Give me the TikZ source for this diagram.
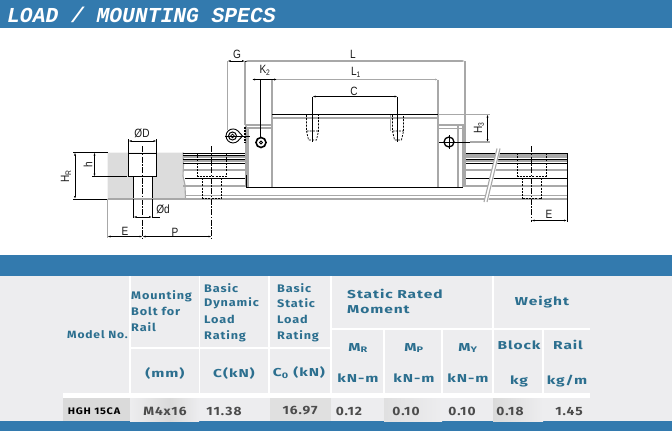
\documentclass[tikz,border=0pt]{standalone}
\usepackage{fontspec}
\setmainfont{Liberation Sans}
\newfontfamily\titlefont{Liberation Mono}
\newfontfamily\dimfont[FakeStretch=0.84]{Liberation Sans}
\newfontfamily\tablefont[LetterSpace=8,FakeStretch=1.15]{Fira Sans}
\newfontfamily\widefont[LetterSpace=8,FakeStretch=1.35]{Fira Sans}
\definecolor{bannerblue}{HTML}{337AAE}
\definecolor{tablegray}{HTML}{EDEDEF}
\definecolor{cellgray}{HTML}{DADADA}
\definecolor{headblue}{HTML}{2C6F8F}
\definecolor{railgray}{HTML}{DCDCDC}
\definecolor{linegray}{HTML}{A8A8A8}
\usetikzlibrary{arrows.meta}
\tikzset{
  thin line/.style = {line width=0.7pt, black},
  gray line/.style = {line width=1.1pt, linegray},
  heavy line/.style = {line width=1pt, black},
  hidden line/.style = {line width=0.7pt, black, dash pattern=on 2pt off 1.2pt},
  center line/.style = {line width=0.7pt, black, dash pattern=on 6pt off 1.5pt on 1.5pt off 1.5pt},
  dim line/.style = {line width=0.7pt, black, <->, >={Latex[length=3pt,width=2pt]}},
  dim label/.style = {font=\dimfont\fontsize{12}{12}\selectfont, inner sep=0pt, text=black!90},
  table head/.style = {font=\tablefont\bfseries\fontsize{11}{11}\selectfont, text=headblue, inner sep=0pt},
  table left/.style = {table head, anchor=west},
  table wide/.style = {font=\widefont\bfseries\fontsize{11.5}{11}\selectfont, text=headblue, inner sep=0pt},
  table cell/.style = {font=\tablefont\fontsize{12}{11}\selectfont\bfseries, text=black!70, inner sep=0pt},
  cell shade/.style = {left color=cellgray, right color=tablegray, draw=none},
  white rule/.style = {line width=1.3pt, white},
}
\begin{document}
\begin{tikzpicture}[x=1pt, y=-1pt]
\useasboundingbox (0,0) rectangle (672,431);
% banners
\fill[bannerblue] (0,0) rectangle (672,28);
\fill[tablegray] (0,276) rectangle (672,421);
\fill[bannerblue] (0,255) rectangle (672,276);
\fill[bannerblue] (0,421) rectangle (672,431);
\node[anchor=west, text=white, inner sep=0pt, font=\titlefont\bfseries\itshape\fontsize{21.3}{21}\selectfont] (title) at (7,15) {LOAD / MOUNTING SPECS};
% rail section
\fill[railgray] (107.5,152.5) -- (183,152.5) -- (183.5,165) -- (183,176) -- (185,185) -- (185.5,199) -- (107.5,199) -- cycle;
\fill[white] (128.5,153) rectangle (156.5,176.5);
\fill[white] (133.5,176.5) rectangle (152,199);
\draw[heavy line] (128.5,153) rectangle (156.5,176.5);
\draw[thin line] (133.5,176.5) -- (133.5,199) (152,176.5) -- (152,199);
\draw[center line] (142.5,146) -- (142.5,238);
\draw[gray line] (183,152.5) -- (183.5,165) -- (183,176) -- (185,185) -- (185.5,199);
% rail lines, left of the block
\foreach \y in {153,155,159,163} \draw[thin line] (183,\y) -- (246,\y);
\foreach \y in {157,161,170,186} \draw[gray line] (183,\y) -- (246,\y);
\draw[thin line] (185,178) -- (246,178);
% rail lines, under the block
\draw[gray line] (107.5,199) -- (567,199);
\draw[gray line] (185,195.5) -- (567,195.5);
\draw[heavy line] (73,199) -- (107.5,199);
% rail lines, right of the block
\foreach \y in {153,159,163} \draw[heavy line] (463,\y) -- (567,\y);
\foreach \y in {155,157,161,170,186} \draw[gray line] (463,\y) -- (567,\y);
\draw[thin line] (463,178) -- (567,178);
% break
\fill[white] (497,148) -- (501,148) -- (488,202) -- (484,202) -- cycle;
\draw[gray line] (497,148.5) -- (484,202);
\draw[gray line] (500,148.5) -- (487,202);
% bolt holes in the rail
\draw[hidden line] (197.5,153) rectangle (226.5,176.5);
\draw[hidden line] (202,178) -- (202,199) (221,178) -- (221,199) (202,198) -- (221,198);
\draw[center line] (211.5,146) -- (211.5,238);
\draw[hidden line] (517.5,153) rectangle (546,176.5);
\draw[hidden line] (522.5,178) -- (522.5,199) (541,178) -- (541,199) (522.5,198) -- (541,198);
\draw[center line] (531.5,146) -- (531.5,222);
\draw[thin line] (567,153) -- (567,222);
% block
\draw[gray line] (245,61) -- (245,125);
\draw[gray line] (246,125) -- (246,187);
\draw[gray line] (248,128) -- (248,187);
\draw[gray line] (246,125) -- (272,125);
\draw[gray line] (246,128) -- (272,128);
\draw[gray line] (272,79.5) -- (272,187);
\draw[gray line] (438,79.5) -- (438,187);
\draw[gray line] (465,61) -- (465,187);
\draw[gray line] (463,125) -- (463,187);
\draw[gray line] (458,125) -- (458,187);
\draw[gray line] (438,125) -- (465,125);
\draw[gray line] (438,128.5) -- (463,128.5);
\draw[heavy line] (246,187) -- (463,187);
\draw[heavy line] (246,175) -- (246,187);
\draw[heavy line] (272,114.5) -- (438,114.5);
\draw[gray line] (272,118) -- (438,118);
\draw[gray line] (438,114.5) -- (490,114.5);
\draw[gray line] (227.5,61) -- (227.5,130);
% threaded holes
\draw[hidden line] (306.5,115) -- (306.5,131) -- (308.5,140) -- (316.5,140) -- (318.5,131) -- (318.5,115) (306.5,131) -- (318.5,131);
\draw[hidden line] (392.5,115) -- (392.5,131) -- (394.5,140) -- (401.5,140) -- (403.5,131) -- (403.5,115) (392.5,131) -- (403.5,131);
\draw[gray line] (390.5,115) -- (390.5,131);
\draw[thin line] (312.5,96.5) -- (312.5,142);
\draw[thin line] (397.5,96.5) -- (397.5,142);
% side screws
\draw[line width=1.6pt] (261,142.5) circle (5);
\draw[line width=0.8pt] (261,142.5) circle (1.5);
\draw[thin line] (260.5,79.5) -- (260.5,137);
\draw[line width=1.3pt] (449,142) circle (5);
\draw[thin line] (439,142) -- (470,142) (449,135) -- (449,149);
\draw[gray line] (470,142) -- (490,142);
% grease nipple
\draw[line width=0.9pt] (238,131) arc[start angle=-45, end angle=-315, radius=7] -- (242.5,136) -- cycle;
\draw[line width=1pt] (232.5,136) circle (4);
\draw[thin line] (232.5,136) circle (1.8);
\draw[thin line] (225,136) -- (250,136);
\draw[line width=1.1pt, dash pattern=on 2pt off 1pt] (245,127) -- (245,143);
% dimensions
\draw[dim line] (128.5,141) -- (156.5,141);
\draw[thin line] (128.5,139) -- (128.5,153) (156.5,139) -- (156.5,153);
\node[dim label] (dD) at (142,133) {ØD};
\draw[thin line] (73,152.5) -- (107.5,152.5) (92,176.5) -- (127,176.5);
\draw[dim line] (75,152.5) -- (75,199);
\node[dim label, rotate=90] (hR) at (66,176) {H\textsubscript{R}};
\draw[dim line] (94.5,152.5) -- (94.5,176.5);
\node[dim label, rotate=90] (hh) at (88,165) {h};
\draw[thin line] (133.5,199) -- (133.5,218) (152,199) -- (152,218);
\draw[dim line] (133.5,217) -- (152,217);
\draw[thin line] (152,217) -- (160,217);
\node[dim label] (dd) at (163,209) {Ød};
\draw[gray line] (107.5,199) -- (107.5,238);
\draw[dim line] (107.5,236.5) -- (142.5,236.5);
\node[dim label] (eleft) at (125,231) {E};
\draw[dim line] (142.5,236.5) -- (211.5,236.5);
\node[dim label] (pp) at (175,232) {P};
\draw[dim line] (227.5,61) -- (245,61);
\draw[thin line] (245,61) -- (250,61);
\node[dim label] (gg) at (237,54) {G};
\draw[dim line, linegray, line width=1.1pt] (245,61) -- (465,61);
\node[dim label] (ll) at (353,54) {L};
\draw[dim line, linegray, line width=1pt] (272,79.5) -- (438,79.5);
\node[dim label] (lone) at (356,72) {L\textsubscript{1}};
\draw[dim line] (252,79.5) -- (277,79.5);
\node[dim label] (ktwo) at (265,70) {K\textsubscript{2}};
\draw[dim line] (312.5,96.5) -- (397.5,96.5);
\node[dim label] (cc) at (354,91) {C};
\draw[dim line] (487.5,114.5) -- (487.5,142);
\node[dim label, rotate=90] (hthree) at (479,128) {H\textsubscript{3}};
\draw[dim line] (531.5,220.5) -- (567,220.5);
\node[dim label] (eright) at (549,214) {E};
% table
\fill[white] (63,393) rectangle (590,398);
\fill[cellgray] (63,398) rectangle (130,421);
\shade[left color=tablegray, right color=cellgray] (130,398) rectangle (170,421);
\shade[cell shade] (170,398) rectangle (199,421);
\fill[cellgray!70!tablegray] (270,398) rectangle (331,421);
\shade[left color=cellgray!70!tablegray, right color=tablegray] (384,398) rectangle (442,421);
\shade[cell shade] (493,398) rectangle (543,421);
\draw[white rule] (130,276) -- (130,393);
\draw[white rule] (199.5,276) -- (199.5,393);
\draw[white rule] (269,276) -- (269,393);
\draw[white rule] (331,276) -- (331,393);
\draw[white rule] (493,276) -- (493,393);
\draw[white rule] (130,348) -- (331,348);
\draw[white rule] (331,329) -- (590,329);
\draw[white rule] (384,329) -- (384,393);
\draw[white rule] (442,329) -- (442,393);
\draw[white rule] (543,329) -- (543,393);
\node[table head, font=\tablefont\bfseries\fontsize{10.5}{10}\selectfont] (model) at (97.5,335) {Model No.};
\node[table left] (mount) at (131,296.5) {Mounting};
\node[table left] (bolt) at (131,311) {Bolt for};
\node[table left] (rail) at (131,327.5) {Rail};
\node[table left] (basica) at (204,288) {Basic};
\node[table left] (dyn) at (204,303) {Dynamic};
\node[table left] (loada) at (204,319) {Load};
\node[table left] (ratea) at (204,336) {Rating};
\node[table left] (basicb) at (277,288) {Basic};
\node[table left] (stat) at (277,303) {Static};
\node[table left] (loadb) at (277,319) {Load};
\node[table left] (rateb) at (277,336) {Rating};
\node[table wide, anchor=west] (srated) at (347,294) {Static Rated};
\node[table wide, anchor=west] (moment) at (347,310) {Moment};
\node[table wide] (weight) at (542,302) {Weight};
\node[table wide] (mm) at (165,373) {(mm)};
\node[table wide] (ckn) at (234,373) {C(kN)};
\node[table wide] (cokn) at (299,373) {C\textsubscript{0} (kN)};
\node[table wide] (mr) at (358,348) {M\textsubscript{R}};
\node[table wide] (mp) at (414,348) {M\textsubscript{P}};
\node[table wide] (my) at (468,348) {M\textsubscript{Y}};
\node[table wide] (kna) at (358,378) {kN-m};
\node[table wide] (knb) at (414,378) {kN-m};
\node[table wide] (knc) at (468,378) {kN-m};
\node[table wide] (block) at (519,345) {Block};
\node[table wide] (railw) at (568,345) {Rail};
\node[table wide] (kg) at (519,381) {kg};
\node[table wide] (kgm) at (567,381) {kg/m};
\node[table cell, text=black, font=\tablefont\bfseries\fontsize{9.5}{10}\selectfont] (hgh) at (94,411) {HGH 15CA};
\node[table cell] (bolta) at (165,411) {M4x16};
\node[table cell] (cval) at (224,411) {11.38};
\node[table cell] (coval) at (300,411) {16.97};
\node[table cell] (mrval) at (349,411) {0.12};
\node[table cell] (mpval) at (406,411) {0.10};
\node[table cell] (myval) at (462,411) {0.10};
\node[table cell] (blockval) at (510,411) {0.18};
\node[table cell] (railval) at (569,411) {1.45};
\end{tikzpicture}
\end{document}
